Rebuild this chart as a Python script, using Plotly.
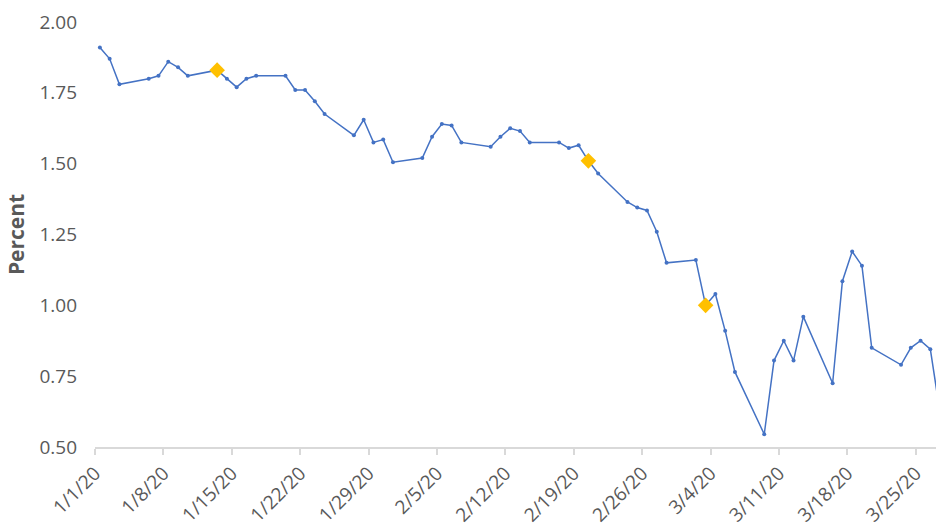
import pandas as pd
import plotly.graph_objects as go

dates = ["2020-01-01", "2020-01-02", "2020-01-03", "2020-01-06", "2020-01-07", "2020-01-08",
         "2020-01-09", "2020-01-10", "2020-01-13", "2020-01-14", "2020-01-15", "2020-01-16",
         "2020-01-17", "2020-01-20", "2020-01-21", "2020-01-22", "2020-01-23", "2020-01-24",
         "2020-01-27", "2020-01-28", "2020-01-29", "2020-01-30", "2020-01-31", "2020-02-03",
         "2020-02-04", "2020-02-05", "2020-02-06", "2020-02-07", "2020-02-10", "2020-02-11",
         "2020-02-12", "2020-02-13", "2020-02-14", "2020-02-17", "2020-02-18", "2020-02-19",
         "2020-02-20", "2020-02-21", "2020-02-24", "2020-02-25", "2020-02-26", "2020-02-27",
         "2020-02-28", "2020-03-02", "2020-03-03", "2020-03-04", "2020-03-05", "2020-03-06",
         "2020-03-09", "2020-03-10", "2020-03-11", "2020-03-12", "2020-03-13", "2020-03-16",
         "2020-03-17", "2020-03-18", "2020-03-19", "2020-03-20", "2020-03-23", "2020-03-24",
         "2020-03-25", "2020-03-26", "2020-03-27"]
values = [1.91, 1.87, 1.78, 1.80, 1.81, 1.86,
          1.84, 1.81, 1.83, 1.80, 1.77, 1.80,
          1.81, 1.81, 1.76, 1.76, 1.72, 1.675,
          1.60, 1.655, 1.575, 1.585, 1.505, 1.52,
          1.595, 1.64, 1.635, 1.575, 1.56, 1.595,
          1.625, 1.615, 1.575, 1.575, 1.555, 1.565,
          1.51, 1.465, 1.365, 1.345, 1.335, 1.26,
          1.15, 1.16, 1.00, 1.04, 0.91, 0.765,
          0.545, 0.805, 0.875, 0.805, 0.96, 0.725,
          1.085, 1.19, 1.14, 0.85, 0.79, 0.85,
          0.875, 0.845, 0.62]

highlight_dates = ["2020-01-13", "2020-02-20", "2020-03-03"]
highlight_values = [1.83, 1.51, 1.00]

tick_dates = ["2020-01-01", "2020-01-08", "2020-01-15", "2020-01-22", "2020-01-29",
              "2020-02-05", "2020-02-12", "2020-02-19", "2020-02-26", "2020-03-04",
              "2020-03-11", "2020-03-18", "2020-03-25"]
tick_labels = ["1/1/20", "1/8/20", "1/15/20", "1/22/20", "1/29/20", "2/5/20", "2/12/20",
               "2/19/20", "2/26/20", "3/4/20", "3/11/20", "3/18/20", "3/25/20"]
y_ticks = [0.50, 0.75, 1.00, 1.25, 1.50, 1.75, 2.00]

half_day = pd.Timedelta(hours=12)
tick_pos = [pd.Timestamp(d) - half_day for d in tick_dates]
x_start = pd.Timestamp(dates[0]) - half_day
x_end = x_start + pd.Timedelta(days=86.08)

fig = go.Figure()
fig.add_trace(go.Scatter(
    x=pd.to_datetime(dates), y=values, mode="lines+markers",
    line=dict(color="#4472C4", width=1.5),
    marker=dict(color="#4472C4", size=4),
    showlegend=False, cliponaxis=True, hoverinfo="skip",
))
fig.add_trace(go.Scatter(
    x=pd.to_datetime(highlight_dates), y=highlight_values, mode="markers",
    marker=dict(color="#FFC000", size=12, symbol="diamond"),
    showlegend=False, hoverinfo="skip",
))

tick_font = dict(family="Open Sans", size=19, color="#595959")
fig.update_layout(
    width=936, height=532,
    margin=dict(l=95, r=0, t=22, b=85),
    paper_bgcolor="white", plot_bgcolor="white",
    xaxis=dict(
        range=[x_start, x_end],
        tickvals=tick_pos, ticktext=tick_labels, tickangle=-45,
        showgrid=False, zeroline=False,
        showline=True, linecolor="#d9d9d9", linewidth=1.5,
        ticks="outside", ticklen=6, tickcolor="#d9d9d9", tickwidth=1.5,
        tickfont=tick_font,
    ),
    yaxis=dict(
        range=[0.5, 2.0], tickvals=y_ticks, tickformat=".2f",
        showgrid=False, zeroline=False, showline=False,
        ticklabelstandoff=17,
        tickfont=tick_font,
        title=dict(text="<b>Percent</b>", font=dict(family="Open Sans", size=21, color="#595959"),
                   standoff=9),
    ),
)

fig.write_html("out.html",
               config={"displayModeBar": False},
               post_script="document.body.style.margin='0';document.body.style.overflow='hidden';")
